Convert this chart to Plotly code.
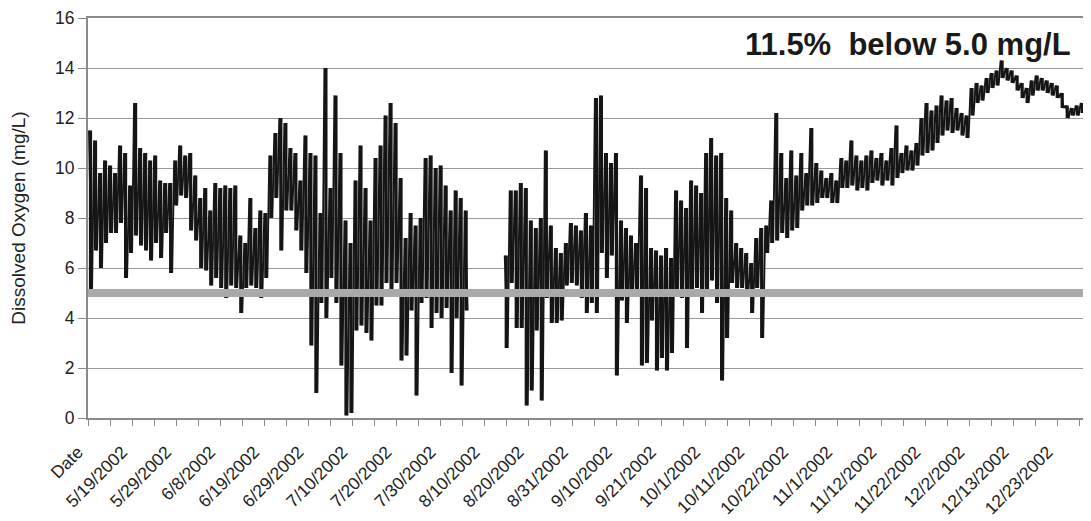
import plotly.graph_objects as go

# Category-axis labels (one every two tick marks, Excel-style)
x_labels = ["Date", "5/19/2002", "5/29/2002", "6/8/2002", "6/19/2002", "6/29/2002",
            "7/10/2002", "7/20/2002", "7/30/2002", "8/10/2002", "8/20/2002",
            "8/31/2002", "9/10/2002", "9/21/2002", "10/1/2002", "10/11/2002",
            "10/22/2002", "11/1/2002", "11/12/2002", "11/22/2002", "12/2/2002",
            "12/13/2002", "12/23/2002"]

# Dissolved oxygen (mg/L): high / low envelope of the record for each
# successive slice of the time series (None = no data, logger gap)
do_high = [11.5, 11.1, 9.8, 10.3, 10.1, 9.8, 10.9, 10.6, 9.3, 12.6,
           10.8, 10.6, 10.3, 10.5, 9.5, 9.4, 9.4, 10.3, 10.9, 10.5,
           10.6, 9.7, 8.8, 9.2, 8.3, 9.4, 9.2, 9.3, 9.2, 9.3,
           7.3, 7.0, 8.8, 7.6, 8.3, 8.2, 10.5, 11.4, 12.0, 11.8,
           10.8, 10.6, 9.5, 11.3, 10.6, 10.5, 8.2, 14.0, 9.2, 12.9,
           10.6, 7.9, 7.0, 9.5, 10.9, 9.2, 7.9, 10.4, 10.9, 12.1,
           12.6, 11.8, 9.6, 7.2, 8.2, 7.7, 8.0, 10.4, 10.5, 10.0,
           10.1, 9.3, 8.3, 9.1, 8.8, 8.3, None, None, None, None,
           None, None, None, 6.5, 9.1, 9.1, 9.4, 9.2, 7.9, 7.6,
           8.0, 10.7, 7.7, 6.8, 6.6, 7.0, 7.8, 7.7, 7.5, 8.2,
           7.7, 12.8, 12.9, 10.6, 10.2, 10.6, 7.9, 7.6, 7.3, 7.0,
           9.7, 9.2, 6.8, 6.7, 6.5, 6.8, 6.4, 9.1, 8.7, 8.4,
           9.5, 9.3, 9.0, 10.6, 11.2, 10.5, 10.6, 8.8, 8.3, 7.0,
           6.8, 6.6, 6.2, 7.2, 7.6, 7.7, 8.7, 12.2, 10.6, 9.6,
           10.7, 9.7, 10.6, 9.8, 11.6, 10.2, 9.9, 9.6, 9.8, 9.5,
           10.4, 10.3, 11.1, 10.5, 10.3, 10.5, 10.7, 10.4, 10.6, 10.3,
           10.8, 11.7, 10.6, 10.9, 10.7, 11.0, 12.0, 12.6, 12.3, 12.5,
           12.9, 12.7, 12.8, 12.4, 12.2, 12.1, 13.2, 13.4, 13.3, 13.6,
           13.8, 13.9, 14.3, 14.0, 13.9, 13.7, 13.4, 13.2, 13.5, 13.7,
           13.6, 13.5, 13.4, 13.3, 13.0, 12.5, 12.4, 12.5, 12.6, 13.2,
           13.3]
do_low = [5.0, 6.7, 6.0, 7.0, 7.4, 7.4, 7.8, 5.6, 6.6, 7.3,
          6.9, 6.7, 6.3, 7.0, 6.4, 7.4, 5.8, 8.5, 8.9, 8.8,
          7.5, 7.1, 6.0, 5.9, 5.3, 5.6, 5.2, 4.8, 5.3, 5.2,
          4.2, 5.2, 5.3, 5.2, 4.8, 5.6, 8.0, 8.8, 6.7, 8.3,
          8.3, 7.5, 6.7, 5.8, 2.9, 1.0, 4.6, 4.0, 5.6, 4.6,
          2.1, 0.1, 0.2, 3.5, 3.7, 3.4, 3.1, 4.5, 4.5, 5.4,
          5.0, 5.4, 2.3, 2.5, 4.3, 0.9, 4.6, 4.8, 3.6, 4.2,
          4.0, 4.4, 1.8, 4.0, 1.3, 4.3, None, None, None, None,
          None, None, None, 2.8, 5.4, 3.6, 3.6, 0.5, 1.1, 3.5,
          0.7, 4.8, 3.8, 3.8, 3.9, 5.3, 5.4, 5.3, 4.8, 4.2,
          4.6, 4.2, 6.6, 5.6, 6.5, 1.7, 4.7, 3.8, 5.0, 5.0,
          2.1, 2.2, 3.9, 1.9, 2.4, 1.9, 2.6, 5.1, 4.8, 2.8,
          5.1, 5.2, 4.2, 5.1, 5.5, 4.6, 1.5, 3.2, 5.4, 5.2,
          5.2, 4.9, 4.2, 5.2, 3.2, 6.6, 7.0, 7.1, 7.4, 7.2,
          7.5, 7.6, 8.3, 8.5, 8.5, 8.6, 8.8, 8.8, 8.6, 8.6,
          9.2, 9.2, 9.3, 9.1, 9.2, 9.1, 9.4, 9.5, 9.3, 9.5,
          9.3, 9.6, 9.8, 9.9, 9.9, 10.1, 10.5, 10.6, 10.7, 11.0,
          11.3, 11.5, 11.4, 11.5, 11.3, 11.2, 12.1, 12.6, 12.7, 13.0,
          13.2, 13.3, 13.6, 13.5, 13.4, 13.1, 12.8, 12.6, 12.9, 13.1,
          13.1, 13.0, 12.9, 12.8, 12.4, 12.0, 12.1, 12.1, 12.2, 12.2,
          12.5]

threshold = 5.0
note_text = "11.5%  below 5.0 mg/L"
y_title = "Dissolved Oxygen (mg/L)"

# sampling density of the envelope along the category axis
SLICES_PER_TICK = 4.4
N_TICKS = 46
HALF = 0.5 / SLICES_PER_TICK

# vertical strokes spanning each slice's low..high range
vx, vy = [], []
# zig-zag joining successive readings
zx, zy = [], []
for i, (h, l) in enumerate(zip(do_high, do_low)):
    if h is None:
        zx.append(None)
        zy.append(None)
        continue
    x0 = i / SLICES_PER_TICK
    vx += [x0 + HALF, x0 + HALF, None]
    vy += [l, h, None]
    zx += [x0 + 0.4 * HALF, x0 + 1.6 * HALF]
    zy += [h, l]

x_end = 45.42

tickvals = list(range(N_TICKS))
ticktext = []
for t in tickvals:
    if t % 2 == 0 and t // 2 < len(x_labels):
        ticktext.append(x_labels[t // 2])
    else:
        ticktext.append("")

FONT = "Arial, Liberation Sans, sans-serif"

fig = go.Figure()
fig.add_trace(go.Scatter(x=vx, y=vy, mode="lines",
                         line=dict(color="#151515", width=3.2),
                         hoverinfo="skip", showlegend=False))
fig.add_trace(go.Scatter(x=zx, y=zy, mode="lines",
                         line=dict(color="#151515", width=1.9),
                         hoverinfo="skip", showlegend=False))
fig.add_trace(go.Scatter(x=[0, x_end - 0.05], y=[threshold, threshold], mode="lines",
                         line=dict(color="#a9a9a9", width=8),
                         hoverinfo="skip", showlegend=False))

fig.add_annotation(x=37.2, y=14.95, xref="x", yref="y", text=note_text,
                   showarrow=False, font=dict(family=FONT, size=31, color="#1a1a1a", weight="bold"))

# page body adds an 8px offset, so the figure is sized to the visible window
fig.update_layout(
    width=1083, height=513,
    margin=dict(l=80, r=2, t=10, b=103),
    paper_bgcolor="white", plot_bgcolor="white",
    font=dict(family=FONT, color="#222222"),
)
fig.update_xaxes(range=[0, x_end], tickmode="array", tickvals=tickvals, ticktext=ticktext,
                 tickangle=-45, ticks="outside", ticklen=6, tickcolor="#8a8a8a",
                 tickfont=dict(size=17.5, family=FONT, color="#222222"),
                 showline=True, linecolor="#8a8a8a", linewidth=2, mirror=True,
                 showgrid=False, zeroline=False, ticklabelstandoff=9, ticklabelshift=-10,
                 ticklabeloverflow="allow", automargin=False)
fig.update_yaxes(range=[0, 16], dtick=2, ticks="outside", ticklen=8, tickcolor="#8a8a8a",
                 tickfont=dict(size=17.5, family=FONT, color="#222222"),
                 showline=True, linecolor="#8a8a8a", linewidth=2, mirror=True,
                 showgrid=True, gridcolor="#9a9a9a", gridwidth=1.2, zeroline=False,
                 title=dict(text=y_title, font=dict(size=19, family=FONT, color="#222222"), standoff=24),
                 ticklabeloverflow="allow", automargin=False)

fig.write_html("out.html")
